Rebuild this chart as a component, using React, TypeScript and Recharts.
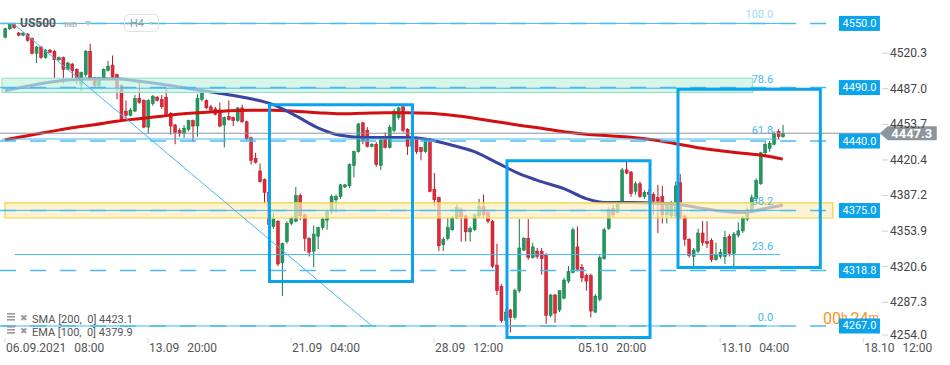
import React from "react";
import { ComposedChart, Bar, Line, XAxis, YAxis, ReferenceLine, ReferenceArea } from "recharts";

// H4 candles, index 0 = 06.09.2021 08:00
const opens = [
  4537, 4545, 4549, 4541, 4539, 4540, 4536, 4522, 4528, 4518,
  4525, 4524, 4516, 4518, 4507, 4512, 4507, 4493, 4502, 4524,
  4499, 4492, 4499, 4506, 4511, 4502, 4492, 4468, 4464, 4468,
  4480, 4478, 4453, 4475, 4481, 4479, 4481, 4466, 4455, 4450,
  4447, 4451, 4459, 4454, 4479, 4478, 4472, 4470, 4469, 4455,
  4463, 4462, 4459, 4471, 4458, 4443, 4424, 4412, 4404, 4392,
  4360, 4365, 4326, 4346, 4363, 4365, 4389, 4371, 4349, 4337,
  4351, 4359, 4366, 4374, 4385, 4388, 4397, 4398, 4417, 4430,
  4457, 4450, 4435, 4437, 4417, 4444, 4434, 4450, 4462, 4472,
  4451, 4435, 4442, 4434, 4430, 4442, 4395, 4387, 4343, 4349,
  4357, 4368, 4376, 4370, 4355, 4357, 4370, 4379, 4373, 4365,
  4324, 4304, 4272, 4282, 4275, 4300, 4338, 4349, 4331, 4337,
  4337, 4333, 4277, 4296, 4282, 4293, 4309, 4317, 4341, 4322,
  4314, 4314, 4280, 4292, 4330, 4358, 4377, 4373, 4383, 4413,
  4411, 4393, 4400, 4388, 4392, 4390, 4387, 4388, 4371, 4370,
  4370, 4401, 4370, 4348, 4332, 4337, 4354, 4346, 4347, 4329,
  4332, 4332, 4351, 4335, 4352, 4356, 4367, 4374, 4386, 4400,
  4429, 4433, 4437, 4449, 4444,
];
const highs = [
  4546, 4550, 4550, 4542, 4542, 4541, 4537, 4529, 4529, 4526,
  4526, 4525, 4519, 4519, 4514, 4513, 4508, 4505, 4525, 4531,
  4500, 4500, 4508, 4515, 4520, 4503, 4493, 4478, 4471, 4483,
  4497, 4479, 4479, 4483, 4482, 4483, 4490, 4467, 4456, 4452,
  4455, 4460, 4460, 4484, 4486, 4479, 4474, 4472, 4476, 4463,
  4478, 4463, 4472, 4474, 4459, 4444, 4429, 4419, 4405, 4393,
  4373, 4366, 4345, 4365, 4369, 4397, 4391, 4372, 4350, 4361,
  4360, 4368, 4376, 4390, 4390, 4400, 4400, 4419, 4431, 4457,
  4458, 4453, 4438, 4439, 4443, 4448, 4455, 4470, 4472, 4474,
  4452, 4445, 4444, 4434, 4442, 4443, 4410, 4388, 4350, 4368,
  4370, 4381, 4378, 4371, 4360, 4372, 4386, 4390, 4374, 4366,
  4344, 4306, 4283, 4283, 4302, 4367, 4350, 4367, 4345, 4340,
  4340, 4335, 4297, 4297, 4300, 4312, 4323, 4359, 4360, 4325,
  4316, 4316, 4297, 4333, 4359, 4378, 4380, 4384, 4415, 4421,
  4412, 4402, 4402, 4394, 4395, 4392, 4399, 4398, 4383, 4384,
  4402, 4409, 4371, 4349, 4340, 4358, 4365, 4365, 4349, 4345,
  4339, 4356, 4353, 4355, 4364, 4370, 4378, 4390, 4405, 4430,
  4439, 4440, 4449, 4451, 4455,
];
const lows = [
  4536, 4544, 4545, 4538, 4538, 4533, 4521, 4513, 4517, 4517,
  4522, 4499, 4515, 4494, 4506, 4499, 4493, 4487, 4500, 4498,
  4489, 4490, 4498, 4505, 4499, 4479, 4458, 4461, 4463, 4467,
  4475, 4452, 4447, 4473, 4477, 4470, 4463, 4446, 4437, 4444,
  4443, 4449, 4439, 4444, 4477, 4470, 4468, 4464, 4453, 4434,
  4459, 4454, 4458, 4457, 4441, 4418, 4419, 4401, 4382, 4358,
  4358, 4323, 4295, 4344, 4361, 4364, 4366, 4337, 4332, 4322,
  4339, 4357, 4357, 4372, 4373, 4386, 4396, 4396, 4406, 4429,
  4437, 4434, 4434, 4416, 4413, 4433, 4433, 4448, 4460, 4448,
  4427, 4432, 4428, 4422, 4429, 4392, 4379, 4337, 4337, 4347,
  4356, 4367, 4346, 4346, 4346, 4356, 4368, 4369, 4363, 4321,
  4296, 4270, 4268, 4261, 4273, 4298, 4337, 4329, 4330, 4330,
  4315, 4269, 4275, 4270, 4280, 4292, 4307, 4316, 4318, 4308,
  4300, 4275, 4279, 4290, 4329, 4357, 4369, 4372, 4382, 4409,
  4388, 4390, 4387, 4386, 4383, 4371, 4354, 4363, 4363, 4368,
  4368, 4367, 4342, 4331, 4323, 4335, 4342, 4340, 4327, 4328,
  4330, 4325, 4332, 4323, 4350, 4354, 4365, 4373, 4384, 4399,
  4427, 4430, 4436, 4442, 4443,
];
const closes = [
  4545, 4549, 4546, 4539, 4541, 4534, 4522, 4528, 4518, 4525,
  4523, 4516, 4518, 4507, 4513, 4506, 4499, 4504, 4524, 4499,
  4492, 4499, 4507, 4510, 4500, 4490, 4459, 4464, 4469, 4480,
  4476, 4453, 4478, 4482, 4478, 4472, 4465, 4454, 4448, 4447,
  4452, 4459, 4454, 4480, 4485, 4471, 4469, 4465, 4454, 4462,
  4460, 4459, 4471, 4458, 4442, 4422, 4420, 4402, 4392, 4362,
  4367, 4325, 4344, 4363, 4368, 4389, 4370, 4349, 4336, 4353,
  4359, 4367, 4375, 4388, 4388, 4399, 4399, 4418, 4430, 4456,
  4440, 4435, 4437, 4418, 4441, 4434, 4453, 4468, 4471, 4450,
  4435, 4442, 4430, 4430, 4441, 4393, 4385, 4342, 4348, 4359,
  4368, 4378, 4369, 4355, 4358, 4371, 4379, 4371, 4365, 4323,
  4300, 4272, 4280, 4275, 4300, 4340, 4349, 4331, 4341, 4332,
  4330, 4277, 4296, 4279, 4300, 4310, 4318, 4357, 4320, 4312,
  4309, 4281, 4295, 4331, 4357, 4376, 4371, 4382, 4413, 4410,
  4391, 4400, 4388, 4392, 4390, 4384, 4384, 4371, 4381, 4382,
  4398, 4369, 4348, 4333, 4338, 4354, 4345, 4344, 4329, 4333,
  4336, 4350, 4335, 4353, 4356, 4368, 4376, 4387, 4403, 4429,
  4437, 4438, 4447, 4444, 4447.3,
];

// moving averages read every 5th candle (0, 5, ... 170), last value from the legend
const maStep = 5;
const smaValues = [
  4441.2, 4445, 4448.7, 4452.4, 4455.3, 4458.5, 4460.9, 4463.2, 4465.5, 4466.9,
  4468.3, 4468.8, 4468.8, 4467.9, 4466.5, 4465.5, 4466, 4466.5, 4466.5, 4466,
  4464.1, 4461.3, 4458.1, 4454.8, 4452, 4448.7, 4446.4, 4445, 4443.6, 4441.2,
  4437.5, 4433.8, 4431, 4428.6, 4426.3,
];
const emaValues = [
  4487, 4491.2, 4494.9, 4497.3, 4497.9, 4497.9, 4495.9, 4493.1, 4489.8, 4486.5,
  4483.3, 4479.5, 4474, 4463.7, 4452.4, 4445.4, 4443.4, 4443.4, 4443.4, 4441.2,
  4436.1, 4430, 4419.8, 4409.5, 4402, 4395.5, 4386.1, 4382.4, 4382.4, 4381.9,
  4381, 4377.7, 4374.5, 4373.1, 4376.8,
];
const smaLast = 4423.1;
const emaLast = 4379.9;
const lastPrice = 4447.3;

const xTicks = [0, 32, 64, 96, 128, 160, 192];
const xTickDates = ["06.09.2021", "13.09", "21.09", "28.09", "05.10", "13.10", "18.10"];
const xTickTimes = ["08:00", "20:00", "04:00", "12:00", "20:00", "04:00", "12:00"];
const yTicks = [4254.0, 4287.3, 4320.6, 4353.9, 4387.2, 4420.4, 4453.7, 4487.0, 4520.3];

const levelPrices = [4550, 4490, 4440, 4375, 4318.8, 4267];
const fibPrices = [4550, 4489.4, 4441.9, 4375.1, 4333.8, 4267];
const fibNames = ["100.0", "78.6", "61.8", "38.2", "23.6", "0.0"];

const BLUE = "#0aa4ec";
const FIB = "#45b8f0";
const UP = "#21995d";
const DOWN = "#de2a3a";

const lastIndex = opens.length - 1;
const data = opens.map((o, i) => ({ i, open: o, high: highs[i], low: lows[i], close: closes[i] }));
const smaData = [...smaValues.map((v, k) => ({ i: k * maStep, v })), { i: lastIndex, v: smaLast }];
const emaData = [...emaValues.map((v, k) => ({ i: k * maStep, v })), { i: lastIndex, v: emaLast }];

function Candle(props: any) {
  const { x, y, width, height, payload } = props;
  if (!payload) return null;
  const top = Math.min(y, y + height);
  const h = Math.abs(height);
  const { open, close, high, low } = payload;
  const range = high - low || 1;
  const py = (v: number) => top + ((high - v) / range) * h;
  const bTop = py(Math.max(open, close));
  const bBot = py(Math.min(open, close));
  const up = close >= open;
  const edge = up ? "#157a47" : "#b51625";
  const cx = x + width / 2;
  return (
    <g>
      <line x1={cx} x2={cx} y1={top} y2={top + h} stroke={edge} strokeWidth={1} />
      <rect x={x} y={bTop} width={width} height={Math.max(1, bBot - bTop)} fill={up ? UP : DOWN} stroke={edge} strokeWidth={0.5} />
    </g>
  );
}

function PriceTick(props: any) {
  const { y, payload } = props;
  const ty = Math.min(y - 2, 335);
  return (
    <g>
      <line x1={882} x2={888} y1={ty} y2={ty} stroke="#d0d0d0" />
      <text x={890} y={ty} dominantBaseline="central" fontSize={12} fill="#444">
        {Number(payload.value).toFixed(1)}
      </text>
    </g>
  );
}

function TimeTick(props: any) {
  const { x, payload } = props;
  const k = xTicks.indexOf(payload.value);
  if (k < 0) return null;
  return (
    <g>
      <line x1={x} x2={x} y1={338} y2={343} stroke="#d8d8d8" />
      <text x={x + 1} y={348} dominantBaseline="central" fontSize={12} fill="#555">
        <tspan>{xTickDates[k]}</tspan>
        <tspan dx={8}>{xTickTimes[k]}</tspan>
      </text>
    </g>
  );
}

function PriceBox(props: any) {
  const { viewBox, text, countdown } = props;
  if (!viewBox) return null;
  const bx = viewBox.x + viewBox.width + 11;
  const cy = viewBox.y;
  return (
    <g>
      {countdown ? (
        <text x={bx - 16} y={cy - 7.5} fontSize={16} fill="#f7941d" dominantBaseline="central">
          <tspan>00</tspan>
          <tspan fontSize={12}>h</tspan>
          <tspan dx={3}>24</tspan>
          <tspan fontSize={12}>m</tspan>
        </text>
      ) : null}
      <rect x={bx} y={cy - 7.5} width={41} height={15} fill={BLUE} />
      <text x={bx + 20.5} y={cy} fill="#fff" fontSize={11} textAnchor="middle" dominantBaseline="central">
        {text}
      </text>
    </g>
  );
}

function FibLabel(props: any) {
  const { viewBox, text } = props;
  if (!viewBox) return null;
  return (
    <text
      x={viewBox.x + viewBox.width - 7}
      y={viewBox.y - 8.5}
      fill={FIB}
      fontSize={11}
      textAnchor="end"
      dominantBaseline="central"
      opacity={text === "100.0" ? 0.5 : 1}
    >
      {text}
    </text>
  );
}

function LastPriceTag(props: any) {
  const { viewBox } = props;
  if (!viewBox) return null;
  const x0 = viewBox.x + viewBox.width;
  const cy = viewBox.y;
  return (
    <g>
      <polygon
        points={`${x0},${cy} ${x0 + 8},${cy - 7} ${x0 + 57},${cy - 7} ${x0 + 57},${cy + 7} ${x0 + 8},${cy + 7}`}
        fill="#8c959b"
      />
      <text x={x0 + 32} y={cy} fill="#fff" fontSize={13} fontWeight={700} textAnchor="middle" dominantBaseline="central">
        {lastPrice.toFixed(1)}
      </text>
    </g>
  );
}

export default function App() {
  return (
    <div style={{ position: "absolute", left: 0, top: 0, width: 950, height: 365, fontFamily: "Roboto, sans-serif", background: "#fff" }}>
      <ComposedChart width={950} height={365} data={data} margin={{ top: 0, right: 0, bottom: 0, left: 0 }}>
        <XAxis
          dataKey="i"
          type="number"
          domain={[-1.119, 211.41]}
          allowDataOverflow
          ticks={xTicks}
          interval={0}
          axisLine={false}
          tickLine={false}
          height={25}
          tick={<TimeTick />}
        />
        <YAxis
          type="number"
          orientation="right"
          mirror
          domain={[4253.9, 4571.9]}
          allowDataOverflow
          ticks={yTicks}
          interval={0}
          axisLine={false}
          tickLine={false}
          tick={<PriceTick />}
        />

        <Bar dataKey={(d: any) => [d.low, d.high]} barSize={3} shape={<Candle />} isAnimationActive={false} />

        <Line data={smaData} type="monotone" dataKey="v" stroke="#d40f12" strokeWidth={3} dot={false} activeDot={false} isAnimationActive={false} />
        <Line data={emaData} type="monotone" dataKey="v" stroke="#3a44a3" strokeWidth={3} dot={false} activeDot={false} isAnimationActive={false} />

        {/* zones */}
        <ReferenceArea x1={-0.67} x2={167.3} y1={4485.4} y2={4498.8} fill="#c6f1e0" fillOpacity={0.7} stroke="#8fe0c4" strokeWidth={1} zIndex={450} />
        <ReferenceArea x1={0} x2={185.2} y1={4368} y2={4382.1} fill="#faeec0" fillOpacity={0.7} stroke="#f5cf3a" strokeWidth={1.2} zIndex={450} />

        {/* fibonacci retracement */}
        <ReferenceLine segment={[{ x: 1.8, y: 4550 }, { x: 82.1, y: 4267 }]} stroke={FIB} strokeWidth={1} zIndex={460} />
        {fibPrices.map((p, k) => (
          <ReferenceLine
            key={"f" + k}
            segment={[{ x: k === 4 ? 2.2 : -0.7, y: p }, { x: 173.4, y: p }]}
            stroke={FIB}
            strokeWidth={1}
            label={<FibLabel text={fibNames[k]} />}
            zIndex={460}
          />
        ))}

        {/* current price */}
        <ReferenceLine
          segment={[{ x: -1.1, y: lastPrice }, { x: 195.7, y: lastPrice }]}
          stroke="#8c959b"
          strokeWidth={1}
          label={<LastPriceTag />}
          zIndex={470}
        />

        {/* horizontal levels */}
        {levelPrices.map((p) => (
          <ReferenceLine
            key={"l" + p}
            segment={[{ x: -1.1, y: p }, { x: 184.1, y: p }]}
            stroke="#4cbaf0"
            strokeWidth={1.5}
            strokeDasharray="16 14"
            label={<PriceBox text={p.toFixed(1)} countdown={p === 4267} />}
            zIndex={480}
          />
        ))}

        {/* boxes */}
        <ReferenceArea x1={59.17} x2={91.16} y1={4308.5} y2={4473.9} fill="none" stroke={BLUE} strokeWidth={3} zIndex={490} />
        <ReferenceArea x1={112.3} x2={144.3} y1={4256.3} y2={4421.6} fill="none" stroke={BLUE} strokeWidth={3} zIndex={490} />
        <ReferenceArea x1={150.56} x2={182.4} y1={4321.6} y2={4488.4} fill="none" stroke={BLUE} strokeWidth={3} zIndex={490} />
      </ComposedChart>

      <svg width={950} height={365} style={{ position: "absolute", left: 0, top: 0, pointerEvents: "none" }}>
        <text x={20} y={23} fontSize={12} fontWeight={700} fill="#555" dominantBaseline="central">US500</text>
        <text x={64} y={24} fontSize={8} fontWeight={700} fill="#bbb" dominantBaseline="central">IND</text>
        <path d="M85 21 L91 21 L88 26 Z" fill="#c4c4c4" />
        <rect x={124.5} y={14.5} width={34} height={17} rx={4} fill="none" stroke="#e2e2e2" />
        <text x={130} y={23} fontSize={11} fill="#9a9a9a" dominantBaseline="central">H4</text>
        <path d="M149 22 L153 22 L151 25 Z" fill="#c4c4c4" />

        <g fill="#9a9a9a">
          <rect x={7} y={313} width={8} height={1.6} />
          <rect x={7} y={316} width={8} height={1.6} />
          <rect x={7} y={319} width={8} height={1.6} />
          <text x={20} y={318} fontSize={9} dominantBaseline="central">✖</text>
          <rect x={7} y={326} width={8} height={1.6} />
          <rect x={7} y={329} width={8} height={1.6} />
          <rect x={7} y={332} width={8} height={1.6} />
          <text x={20} y={331} fontSize={9} dominantBaseline="central">✖</text>
        </g>
        <text x={32} y={319} fontSize={11} fill="#555" dominantBaseline="central" style={{ whiteSpace: "pre" }}>
          {`SMA [200,  0] ${smaLast.toFixed(1)}`}
        </text>
        <text x={32} y={332} fontSize={11} fill="#555" dominantBaseline="central" style={{ whiteSpace: "pre" }}>
          {`EMA [100,  0] ${emaLast.toFixed(1)}`}
        </text>
      </svg>
    </div>
  );
}
